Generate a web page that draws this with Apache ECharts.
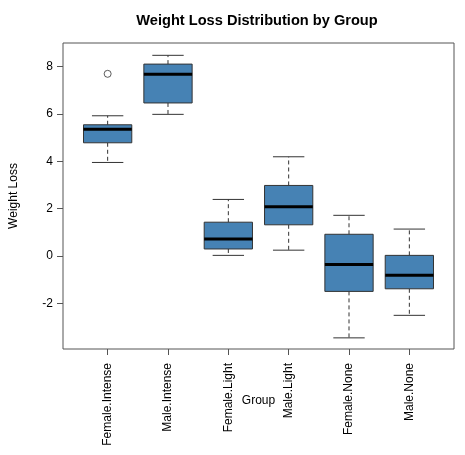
<!DOCTYPE html>
<html>
<head>
<meta charset="utf-8">
<script src="https://cdn.jsdelivr.net/npm/echarts@6/dist/echarts.min.js"></script>
<style>
  html, body { margin: 0; padding: 0; background: #fff; }
  #chart { width: 465px; height: 455px; }
</style>
</head>
<body>
<div id="chart"></div>
<script>
const categories = ["Female.Intense", "Male.Intense", "Female.Light", "Male.Light", "Female.None", "Male.None"];
const lowWhisker = [3.95, 5.98, 0.03, 0.25, -3.45, -2.5];
const q1 = [4.78, 6.46, 0.3, 1.32, -1.49, -1.38];
const median = [5.35, 7.67, 0.72, 2.08, -0.35, -0.81];
const q3 = [5.54, 8.1, 1.43, 2.98, 0.92, 0.03];
const highWhisker = [5.92, 8.47, 2.39, 4.19, 1.72, 1.14];
const outliers = [[1, 7.69]];
const yTicks = [-2, 0, 2, 4, 6, 8];

const font = "'Liberation Sans', Arial, sans-serif";
const myChart = echarts.init(document.getElementById("chart"));

const boxData = categories.map((c, i) => [i + 1, lowWhisker[i], q1[i], median[i], q3[i], highWhisker[i]]);

function renderBox(params, api) {
  const x = api.value(0);
  const pLow = api.coord([x, api.value(1)]);
  const pQ1 = api.coord([x, api.value(2)]);
  const pMed = api.coord([x, api.value(3)]);
  const pQ3 = api.coord([x, api.value(4)]);
  const pHigh = api.coord([x, api.value(5)]);
  const half = api.size([0.4, 0])[0];
  const cap = api.size([0.26, 0])[0];
  const cx = pMed[0];
  const dash = { stroke: "#333", lineWidth: 1, lineDash: [4, 3] };
  const solid = { stroke: "#333", lineWidth: 1 };
  return {
    type: "group",
    children: [
      { type: "line", shape: { x1: cx, y1: pQ3[1], x2: cx, y2: pHigh[1] }, style: dash },
      { type: "line", shape: { x1: cx, y1: pQ1[1], x2: cx, y2: pLow[1] }, style: dash },
      { type: "line", shape: { x1: cx - cap, y1: pHigh[1], x2: cx + cap, y2: pHigh[1] }, style: solid },
      { type: "line", shape: { x1: cx - cap, y1: pLow[1], x2: cx + cap, y2: pLow[1] }, style: solid },
      {
        type: "rect",
        shape: { x: cx - half, y: pQ3[1], width: half * 2, height: pQ1[1] - pQ3[1] },
        style: { fill: "#4682B4", stroke: "#333", lineWidth: 1 }
      },
      { type: "line", shape: { x1: cx - half, y1: pMed[1], x2: cx + half, y2: pMed[1] }, style: { stroke: "#000", lineWidth: 3 } }
    ]
  };
}

const option = {
  animation: false,
  backgroundColor: "#fff",
  textStyle: { fontFamily: font },
  title: {
    text: "Weight Loss Distribution by Group",
    left: 252,
    textAlign: "center",
    top: 8,
    textStyle: { fontFamily: font, fontSize: 14.6, fontWeight: "bold", color: "#000" }
  },
  grid: {
    left: 63, right: 11, top: 43, bottom: 106,
    show: true, borderColor: "#555", borderWidth: 1,
    outerBoundsMode: "none"
  },
  xAxis: {
    type: "value",
    min: 0.26,
    max: 6.74,
    name: "Group",
    nameLocation: "middle",
    nameGap: 46,
    nameMoveOverlap: false,
    nameTextStyle: { fontFamily: font, fontSize: 12, color: "#000" },
    splitLine: { show: false },
    axisLine: { show: false, onZero: false },
    axisTick: { show: true, length: 6, customValues: [1, 2, 3, 4, 5, 6], lineStyle: { color: "#555" } },
    axisLabel: {
      customValues: [1, 2, 3, 4, 5, 6],
      rotate: 90,
      margin: 14,
      fontSize: 12,
      color: "#000",
      fontFamily: font,
      formatter: (v) => categories[Math.round(v) - 1] || ""
    }
  },
  yAxis: {
    type: "value",
    min: -3.92,
    max: 8.99,
    name: "Weight Loss",
    nameLocation: "middle",
    nameGap: 43,
    nameMoveOverlap: false,
    nameTextStyle: { fontFamily: font, fontSize: 12, color: "#000" },
    splitLine: { show: false },
    axisLine: { show: false, onZero: false },
    axisTick: { show: true, length: 6, customValues: yTicks, lineStyle: { color: "#555" } },
    axisLabel: {
      customValues: yTicks,
      margin: 10,
      fontSize: 12,
      color: "#000",
      fontFamily: font
    }
  },
  series: [
    {
      type: "custom",
      renderItem: renderBox,
      encode: { x: 0, y: [1, 2, 3, 4, 5] },
      data: boxData,
      z: 2
    },
    {
      type: "scatter",
      symbol: "circle",
      symbolSize: 7,
      itemStyle: { color: "#fff", borderColor: "#333", borderWidth: 1 },
      emphasis: { disabled: true },
      data: outliers,
      z: 3
    }
  ]
};

myChart.setOption(option);
</script>
</body>
</html>
